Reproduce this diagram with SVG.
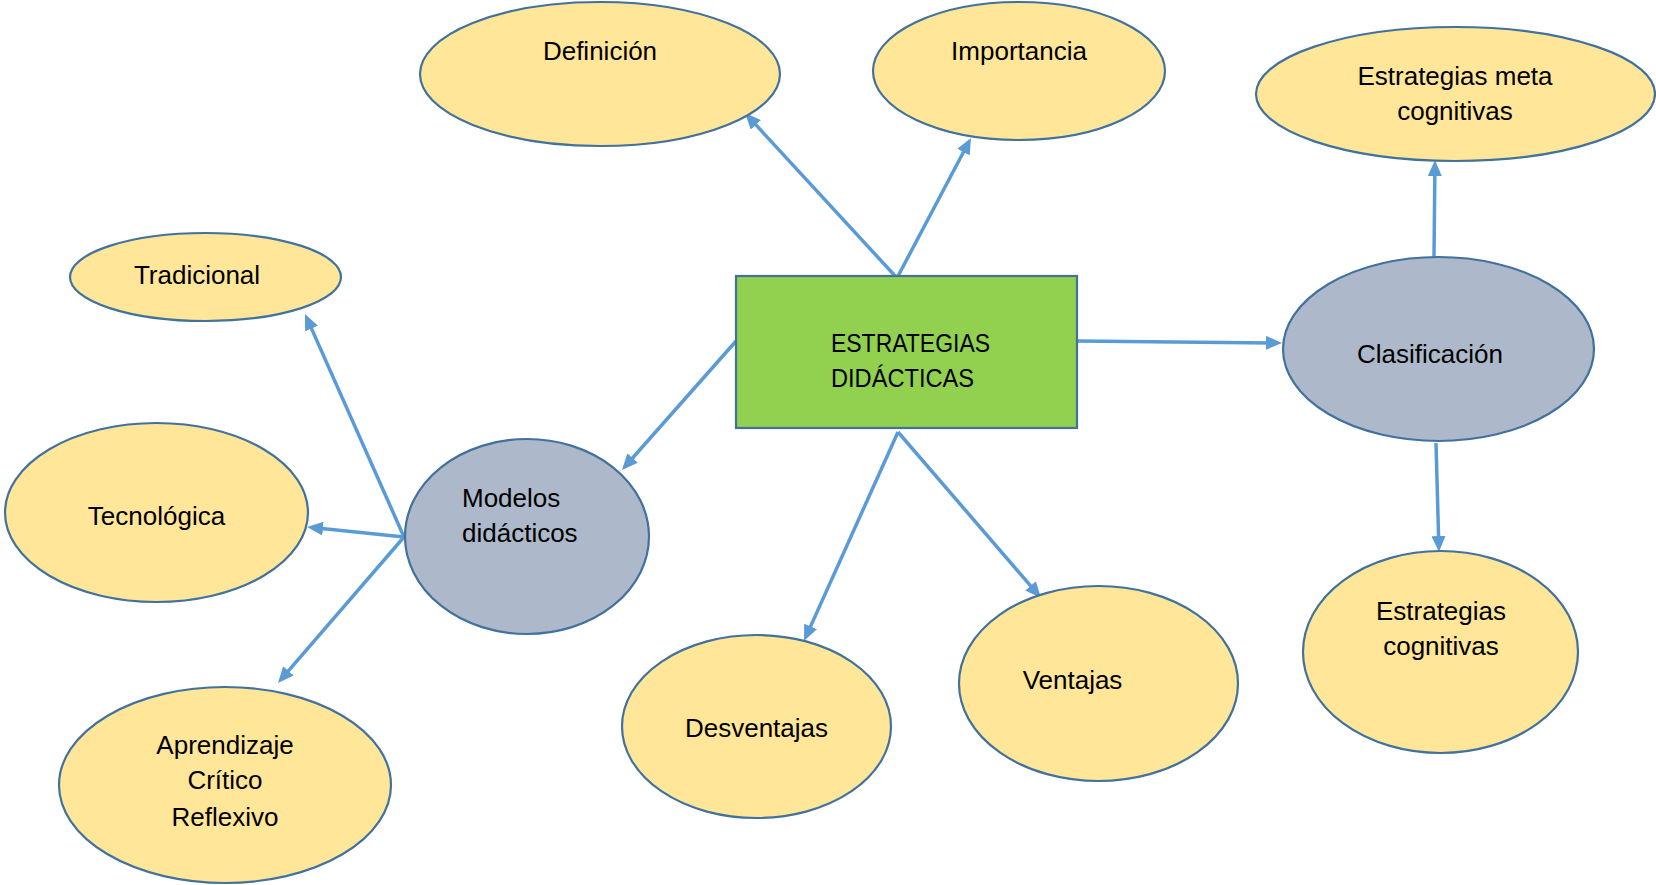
<svg xmlns="http://www.w3.org/2000/svg" width="1656" height="885" viewBox="0 0 1656 885">
<defs>
<style>
.y{fill:#FFE699;stroke:#41719C;stroke-width:2.2}
.g{fill:#ADB9CA;stroke:#41719C;stroke-width:2.2}
.b{fill:#92D050;stroke:#41719C;stroke-width:2.2}
.t{font-family:"Liberation Sans",Arial,sans-serif;font-size:26px;fill:#000}
.c{text-anchor:middle}
.e{stroke:#5B9BD5;stroke-width:3.5;fill:none;marker-end:url(#ah)}
</style>
<marker id="ah" viewBox="0 0 16 14" refX="6" refY="7" markerWidth="16" markerHeight="14" markerUnits="userSpaceOnUse" orient="auto">
<path d="M0,0 L16,7 L0,14 z" fill="#5B9BD5"/>
</marker>
</defs>
<rect width="1656" height="885" fill="#fff"/>
<g id="connectors">
<line class="e" x1="897" y1="278" x2="751.8" y2="120.4"/>
<line class="e" x1="897" y1="278" x2="966.3" y2="146.8"/>
<line class="e" x1="1077" y1="341" x2="1272" y2="342.9"/>
<line class="e" x1="737" y1="340" x2="628.6" y2="462.5"/>
<line class="e" x1="898" y1="432" x2="808.1" y2="631.9"/>
<line class="e" x1="898" y1="432" x2="1034.5" y2="590.4"/>
<line class="e" x1="1434" y1="257" x2="1434.9" y2="170"/>
<line class="e" x1="1436" y1="443" x2="1438.7" y2="542"/>
<line class="e" x1="404" y1="537" x2="309.1" y2="323.1"/>
<line class="e" x1="404" y1="537" x2="317" y2="528"/>
<line class="e" x1="404" y1="537" x2="284.5" y2="675.4"/>
</g>
<g id="central">
<rect class="b" x="736" y="276" width="341" height="152"/>
<text class="t" x="831" y="352" font-size="25" textLength="159" lengthAdjust="spacingAndGlyphs">ESTRATEGIAS</text>
<text class="t" x="831" y="387" font-size="25" textLength="143" lengthAdjust="spacingAndGlyphs">DIDÁCTICAS</text>
</g>
<g id="definicion">
<ellipse class="y" cx="600" cy="74" rx="180" ry="72"/>
<text class="t c" x="600" y="60">Definición</text>
</g>
<g id="importancia">
<ellipse class="y" cx="1019" cy="71" rx="146" ry="69"/>
<text class="t c" x="1019" y="60">Importancia</text>
</g>
<g id="meta">
<ellipse class="y" cx="1455.5" cy="94" rx="199.5" ry="67"/>
<text class="t c" x="1455" y="85">Estrategias meta</text>
<text class="t c" x="1455" y="120">cognitivas</text>
</g>
<g id="clasificacion">
<ellipse class="g" cx="1438.5" cy="349" rx="155.5" ry="92"/>
<text class="t c" x="1430" y="363">Clasificación</text>
</g>
<g id="cognitivas">
<ellipse class="y" cx="1440.5" cy="652" rx="137.5" ry="101"/>
<text class="t c" x="1441" y="620">Estrategias</text>
<text class="t c" x="1441" y="655">cognitivas</text>
</g>
<g id="modelos">
<ellipse class="g" cx="527" cy="536.5" rx="122" ry="97.5"/>
<text class="t" x="462" y="507">Modelos</text>
<text class="t" x="462" y="542">didácticos</text>
</g>
<g id="tradicional">
<ellipse class="y" cx="205.5" cy="277" rx="135.5" ry="44"/>
<text class="t c" x="197" y="284">Tradicional</text>
</g>
<g id="tecnologica">
<ellipse class="y" cx="156.5" cy="512.5" rx="151.5" ry="89.5"/>
<text class="t c" x="156.5" y="525">Tecnológica</text>
</g>
<g id="aprendizaje">
<ellipse class="y" cx="225" cy="785" rx="166" ry="98"/>
<text class="t c" x="225" y="754">Aprendizaje</text>
<text class="t c" x="225" y="789">Crítico</text>
<text class="t c" x="225" y="826">Reflexivo</text>
</g>
<g id="desventajas">
<ellipse class="y" cx="756.5" cy="726.5" rx="134.5" ry="91.5"/>
<text class="t c" x="756.5" y="737">Desventajas</text>
</g>
<g id="ventajas">
<ellipse class="y" cx="1098.5" cy="683.5" rx="139.5" ry="97.5"/>
<text class="t c" x="1072.5" y="689">Ventajas</text>
</g>
</svg>
